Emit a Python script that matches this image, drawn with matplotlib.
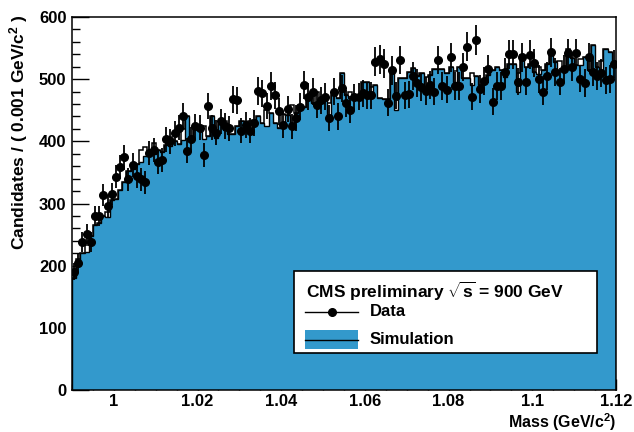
import numpy as np
import matplotlib
matplotlib.use("Agg")
import matplotlib.pyplot as plt
from matplotlib.patches import Rectangle
from matplotlib.lines import Line2D

plt.rcParams['font.family'] = ['Liberation Sans', 'DejaVu Sans']
plt.rcParams['font.weight'] = 'bold'
plt.rcParams['mathtext.fontset'] = 'custom'
plt.rcParams['mathtext.rm'] = 'Liberation Sans:bold'
plt.rcParams['mathtext.bf'] = 'Liberation Sans:bold'
plt.rcParams['mathtext.default'] = 'bf'

# ---- data ----
x_min, x_max, bin_width = 0.99, 1.12, 0.001

data_counts = [
    190, 204, 238, 251, 238, 280, 280, 314, 296, 315,
    343, 359, 374, 339, 362, 344, 339, 334, 381, 386,
    367, 370, 403, 400, 413, 422, 441, 385, 403, 424,
    422, 378, 457, 422, 414, 432, 425, 421, 468, 466,
    417, 426, 417, 430, 481, 477, 457, 489, 474, 448,
    426, 452, 424, 437, 456, 491, 472, 480, 459, 466,
    472, 437, 480, 440, 485, 461, 451, 471, 472, 477,
    474, 474, 528, 532, 525, 462, 514, 473, 531, 474,
    476, 505, 494, 487, 481, 491, 480, 531, 489, 483,
    535, 489, 489, 520, 552, 472, 563, 484, 497, 516,
    464, 489, 489, 512, 540, 540, 496, 535, 496, 539,
    526, 500, 480, 505, 543, 512, 496, 516, 542, 520,
    542, 501, 494, 535, 512, 505, 510, 498, 500, 524,
]

sim_fill = [
    180, 200, 220, 222, 248, 266, 268, 280, 279, 306,
    308, 322, 335, 353, 356, 364, 366, 376, 384, 380,
    386, 383, 394, 392, 400, 396, 402, 440, 406, 421,
    422, 404, 408, 440, 405, 428, 418, 412, 412, 425,
    432, 418, 420, 434, 440, 430, 425, 445, 430, 421,
    424, 442, 430, 445, 458, 456, 468, 462, 464, 470,
    470, 440, 475, 470, 510, 474, 470, 472, 470, 496,
    496, 470, 490, 470, 468, 468, 510, 450, 502, 502,
    512, 518, 505, 510, 488, 507, 517, 517, 517, 510,
    520, 495, 520, 502, 502, 490, 505, 490, 498, 507,
    515, 520, 515, 504, 525, 525, 480, 539, 520, 525,
    512, 508, 515, 525, 542, 528, 515, 518, 549, 534,
    523, 523, 536, 515, 555, 520, 512, 548, 544, 530,
]

sim_line = [
    180, 210, 220, 234, 248, 266, 268, 280, 287, 306,
    308, 322, 335, 353, 356, 364, 386, 391, 384, 398,
    386, 383, 394, 407, 400, 396, 420, 440, 406, 421,
    422, 424, 408, 440, 405, 428, 433, 412, 412, 425,
    432, 418, 432, 434, 440, 430, 450, 445, 430, 421,
    444, 442, 458, 445, 458, 456, 468, 462, 479, 470,
    470, 462, 475, 470, 510, 474, 480, 472, 470, 496,
    496, 488, 490, 470, 468, 468, 510, 475, 502, 502,
    512, 518, 505, 510, 503, 507, 517, 517, 517, 510,
    520, 513, 520, 502, 502, 510, 505, 490, 498, 507,
    515, 520, 515, 504, 525, 525, 510, 539, 520, 525,
    512, 520, 515, 525, 542, 528, 530, 518, 549, 534,
    523, 533, 536, 515, 555, 520, 530, 548, 544, 530,
]

y_ticks = [0, 100, 200, 300, 400, 500, 600]
x_ticks = [1.0, 1.02, 1.04, 1.06, 1.08, 1.1, 1.12]
x_tick_labels = ['1', '1.02', '1.04', '1.06', '1.08', '1.1', '1.12']

# ---- figure ----
edges = x_min + bin_width * np.arange(len(data_counts) + 1)
centers = 0.5 * (edges[:-1] + edges[1:])
data = np.array(data_counts, dtype=float)

fig = plt.figure(figsize=(6.34, 4.32), dpi=100)
ax = fig.add_axes([72/634, 42/432, 544/634, 373/432])

fill_col = '#3399cc'
ax.stairs(sim_line, edges, color='black', lw=1.1, zorder=1)
ax.stairs(sim_fill, edges, fill=True, color=fill_col, zorder=2, lw=0)
ax.stairs(sim_fill, edges, color='black', lw=1.0, zorder=3)
ax.errorbar(centers, data, yerr=np.sqrt(data), fmt='o', color='black',
            ms=5.5, elinewidth=1.3, capsize=0, zorder=5)

ax.set_xlim(x_min, x_max)
ax.set_ylim(0, 600)
ax.set_yticks(y_ticks)
ax.set_yticks(np.arange(0, 601, 20), minor=True)
ax.set_xticks(x_ticks)
ax.set_xticklabels(x_tick_labels)
ax.set_xticks(np.arange(0.99, 1.1201, 0.005), minor=True)
ax.tick_params(axis='both', which='both', direction='in', top=False, right=False,
               labelsize=12, width=1)
ax.tick_params(axis='y', which='major', length=12, pad=4)
ax.tick_params(axis='y', which='minor', length=6)
ax.tick_params(axis='x', which='major', length=8, pad=3)
ax.tick_params(axis='x', which='minor', length=4)
for lab in ax.get_xticklabels() + ax.get_yticklabels():
    lab.set_fontweight('bold')
for sp in ax.spines.values():
    sp.set_linewidth(1.1)
    sp.set_zorder(6)

ax.set_xlabel(r'Mass (GeV/c$^{2}$)', fontsize=11.5, fontweight='bold', ha='right')
ax.xaxis.set_label_coords(1.0, -0.056)
ax.xaxis.label.set_va('top')
ax.set_ylabel(r'Candidates / ( 0.001 GeV/c$^{2}$ )', fontsize=12.5, fontweight='bold', ha='right')
ax.yaxis.set_label_coords(-0.077, 1.008)

# ---- legend box (drawn manually, ROOT style) ----
def px(xp, yp):
    return ((xp - 72) / 544, (390 - yp) / 373)

bx0, by0 = px(294, 353)
bx1, by1 = px(597, 271)
ax.add_patch(Rectangle((bx0, by0), bx1 - bx0, by1 - by0, transform=ax.transAxes,
                       facecolor='white', edgecolor='black', lw=1.2, zorder=10))
tx, ty = px(306, 291)
ax.text(tx, ty, r'CMS preliminary $\sqrt{s}$ = 900 GeV', transform=ax.transAxes,
        fontsize=12.5, fontweight='bold', va='center', ha='left', zorder=11)
l0 = px(305, 312)
l1 = px(358, 312)
ax.add_line(Line2D([l0[0], l1[0]], [l0[1], l0[1]], transform=ax.transAxes,
                   color='black', lw=1.0, zorder=11))
mk = px(332, 312)
ax.add_line(Line2D([mk[0]], [mk[1]], transform=ax.transAxes, marker='o', ms=5.5,
                   color='black', zorder=12))
dx, dy = px(370, 312)
ax.text(dx, dy, 'Data', transform=ax.transAxes, fontsize=12, fontweight='bold',
        va='center', ha='left', zorder=11)
r0 = px(305, 349)
r1 = px(358, 330)
ax.add_patch(Rectangle(r0, r1[0] - r0[0], r1[1] - r0[1], transform=ax.transAxes,
                       facecolor=fill_col, edgecolor='none', zorder=11))
sl = px(305, 339.5)
ax.add_line(Line2D([sl[0], r1[0]], [sl[1], sl[1]], transform=ax.transAxes,
                   color='black', lw=1.0, zorder=12))
sx, sy = px(370, 339.5)
ax.text(sx, sy, 'Simulation', transform=ax.transAxes, fontsize=12, fontweight='bold',
        va='center', ha='left', zorder=11)

fig.savefig('out.png', dpi=100)
